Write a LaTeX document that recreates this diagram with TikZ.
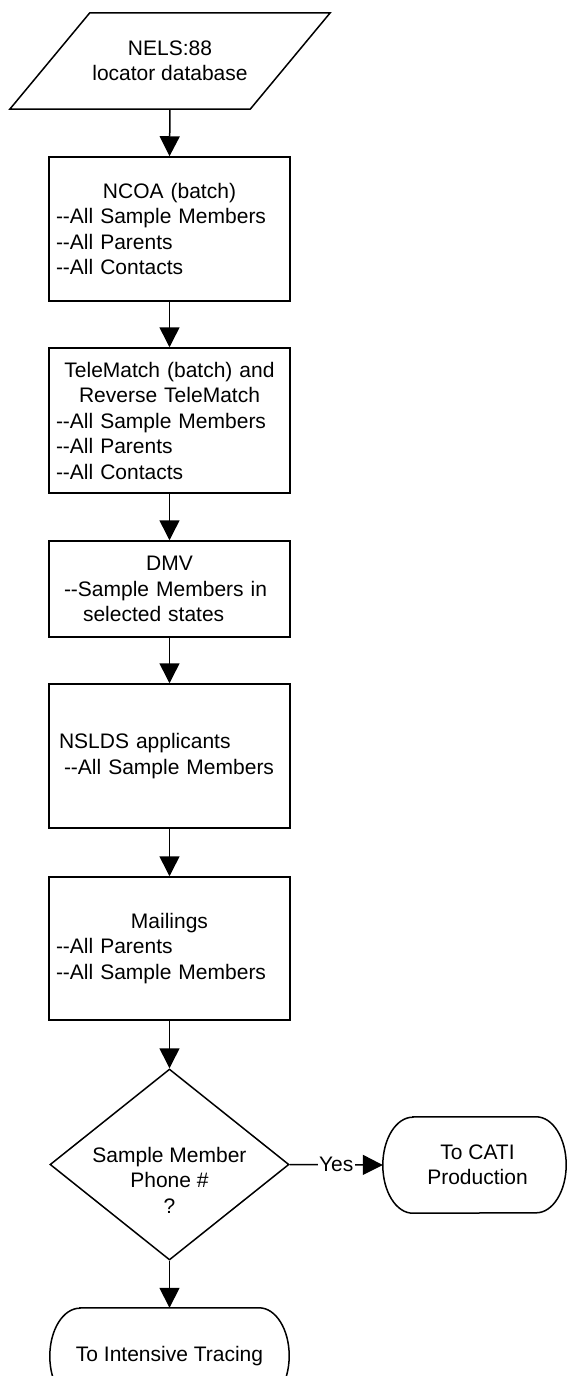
\documentclass[tikz,border=0pt]{standalone}
\usepackage{fontspec}
\newfontfamily\arialf{Liberation Sans}
\usetikzlibrary{arrows.meta,shapes.geometric}
\tikzset{
  every node/.style={font=\arialf\fontsize{21}{25.5}\selectfont},
  shapeline/.style={draw, line width=1.5pt},
  procbox/.style={draw, line width=1.5pt, rectangle, minimum width=241pt, text width=227pt, inner xsep=7pt, inner ysep=0pt, align=left},
  plain/.style={rectangle, inner sep=0pt, align=center},
  flow/.style={-{Triangle[width=20pt,length=20pt]}, line width=1.5pt},
}
\newcommand\ctr[1]{\makebox[227pt][c]{#1}}
\newcommand\termshape[1]{%
  \draw[shapeline] ([xshift=30pt]#1.north west) -- ([xshift=-30pt]#1.north east)
    arc[start angle=90,end angle=-90,x radius=30pt,y radius=48pt]
    -- ([xshift=30pt]#1.south west)
    arc[start angle=270,end angle=90,x radius=30pt,y radius=48pt] -- cycle;}
\begin{document}
\begin{tikzpicture}[x=1pt,y=1pt]
\useasboundingbox (0,0) rectangle (566,-1376);
% database
\node[plain, minimum width=240pt, minimum height=96pt] (db) at (170,-61) {NELS:88\\locator database};
\draw[shapeline] ([xshift=-40pt]db.south west) -- ([xshift=40pt]db.north west)
  -- ([xshift=40pt]db.north east) -- ([xshift=-40pt]db.south east) -- cycle;
% process boxes
\node[procbox, minimum height=144pt] (ncoa) at (169.5,-229) {\ctr{NCOA (batch)}\\-{}-All Sample Members\\-{}-All Parents\\-{}-All Contacts};
\node[procbox, minimum height=145pt] (tele) at (169.5,-420.5) {\ctr{TeleMatch (batch) and}\\\ctr{Reverse TeleMatch}\\-{}-All Sample Members\\-{}-All Parents\\-{}-All Contacts};
\node[procbox, minimum height=96pt] (dmv) at (169.5,-589) {\ctr{DMV}\\\hspace*{8pt}-{}-Sample Members in\\\hspace*{27pt}selected states};
\node[procbox, minimum height=144pt] (nslds) at (169.5,-756) {\hspace*{3pt}NSLDS applicants\\\hspace*{8pt}-{}-All Sample Members};
\node[procbox, minimum height=143pt] (mail) at (169.5,-948.5) {\ctr{Mailings}\\-{}-All Parents\\-{}-All Sample Members};
% decision
\node[diamond, draw, line width=1.5pt, minimum width=239pt, minimum height=191pt, inner sep=0pt] (dec) at (169.5,-1164.5) {};
\node[plain] (dtxt) at (169.5,-1180) {Sample Member\\Phone \#\\?};
% terminals
\node[plain, minimum width=183pt, minimum height=96pt] (cati) at (474.5,-1165) {\hspace*{6pt}To CATI\\\hspace*{6pt}Production};
\termshape{cati}
\node[plain, minimum width=239pt, minimum height=96pt] (trace) at (169.5,-1356) {To Intensive Tracing};
\termshape{trace}
% connectors
\draw[flow] (db.south) -- (ncoa.north);
\draw[flow] (ncoa.south) -- (tele.north);
\draw[flow] (tele.south) -- (dmv.north);
\draw[flow] (dmv.south) -- (nslds.north);
\draw[flow] (nslds.south) -- (mail.north);
\draw[flow] (mail.south) -- (dec.north);
\draw[flow] (dec.south) -- (trace.north);
\draw[flow] (dec.east) -- node[fill=white, inner sep=1.5pt] (yes) {Yes} (cati.west);
\end{tikzpicture}
\end{document}
